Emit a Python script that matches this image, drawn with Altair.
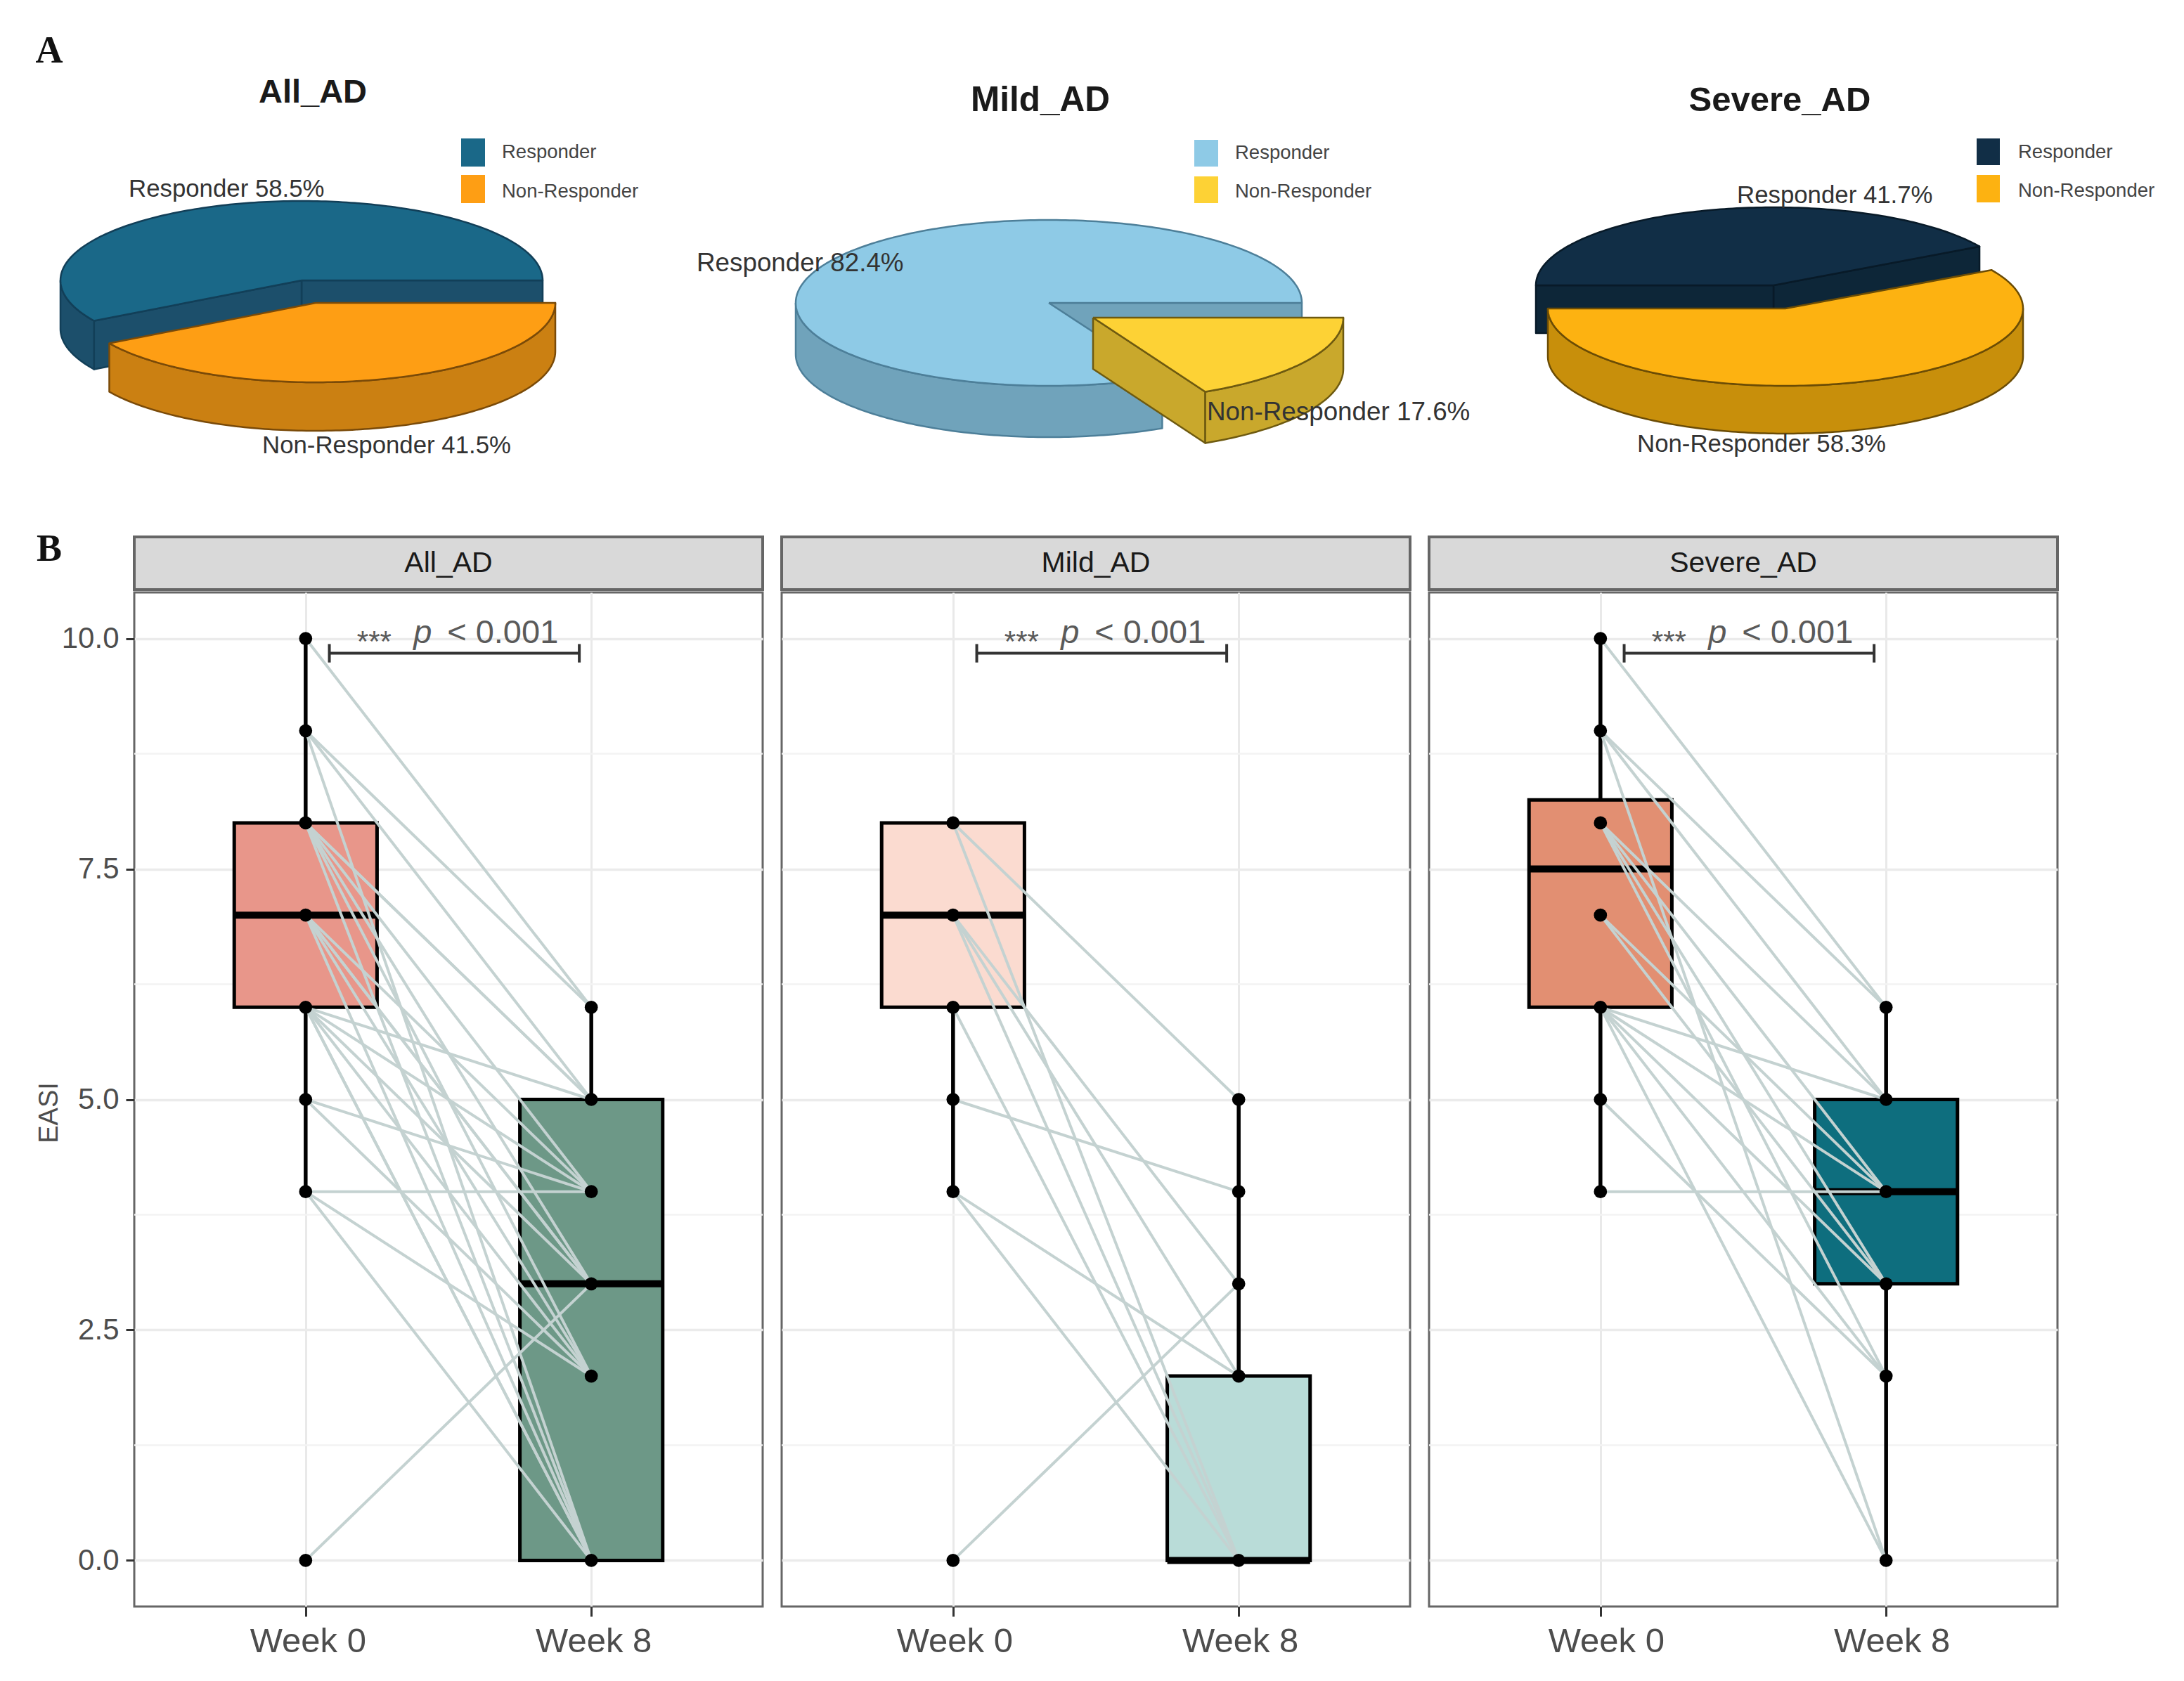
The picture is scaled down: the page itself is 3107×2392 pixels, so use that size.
import math
import altair as alt

# ---------- data ----------
GROUPS = ["All_AD", "Mild_AD", "Severe_AD"]
RESPONDER_PCT = [58.5, 82.4, 41.7]
NON_RESPONDER_PCT = [41.5, 17.6, 58.3]
WEEK_LABELS = ["Week 0", "Week 8"]
WEEK_POS = [1, 2]

ALL_W0 = [10, 9, 9, 9, 8, 8, 8, 8, 8, 8, 7, 7, 7, 7, 7, 6, 6, 6, 6, 6, 6, 5, 5, 4, 4, 4, 0]
ALL_W8 = [6, 6, 5, 0, 5, 5, 4, 3, 2, 0, 4, 3, 3, 2, 0, 5, 4, 3, 2, 0, 0, 4, 2, 4, 2, 0, 3]
MILD_W0 = [8, 8, 7, 7, 7, 6, 5, 4, 4, 0]
MILD_W8 = [5, 0, 3, 2, 0, 0, 4, 2, 0, 3]
SEVERE_W0 = [10, 9, 9, 9, 8, 8, 8, 8, 7, 7, 6, 6, 6, 6, 6, 5, 4]
SEVERE_W8 = [6, 6, 5, 0, 5, 4, 3, 2, 4, 3, 5, 4, 3, 2, 0, 2, 4]

# q1, median, q3, whisker low, whisker high for Week 0 / Week 8
BOX_W0 = [[6, 7, 8, 4, 10], [6, 7, 8, 4, 8], [6, 7.5, 8.25, 4, 10]]
BOX_W8 = [[0, 3, 5, 0, 6], [0, 0, 2, 0, 5], [3, 4, 5, 0, 6]]

# ---------- styles ----------
BOX_FILL = [["#e8968a", "#6d9887"], ["#fbdbd0", "#b9dcd8"], ["#e28f72", "#0e6e7e"]]
PIE_COL = [
    dict(r="#1a6888", rs="#1c4f6b", re="#123f58", n="#fe9e14", ns="#cb8012", ne="#7a4a08"),
    dict(r="#8ecae6", rs="#70a3bb", re="#4d7f99", n="#fdd235", ns="#c9a82c", ne="#6e5a10"),
    dict(r="#112e46", rs="#0d2638", re="#081a28", n="#fdb211", ns="#c88f0b", ne="#6b4c05"),
]
# centre x, centre y, a, b, depth, exploded centre x, centre y, a, b
PIE_GEOM = [
    (429, 398, 343, 113, 69, 449, 430, 341, 113),
    (1492, 430, 360, 118, 73, 1555, 451, 356, 118),
    (2523, 405, 338, 111, 68, 2540, 438, 338, 110),
]
FONT = "Liberation Sans"
OX, OY = 191, 8
TOP_W, TOP_H = 2900, 743
PANEL_W, PANEL_H, STRIP_H = 894, 1443, 75
PAD_LEFT = 41
PANEL_GAP = 21
LABEL_OFFSET = [3, 2, 8]

X = alt.X("x:Q", scale=alt.Scale(domain=[0, TOP_W], nice=False, zero=False), axis=None)
Y = alt.Y("y:Q", scale=alt.Scale(domain=[TOP_H, 0], nice=False, zero=False), axis=None)


def P(t, cx, cy, a, b):
    r = math.radians(t)
    return (cx + a * math.cos(r), cy - b * math.sin(r))


def arc(t0, t1, cx, cy, a, b):
    n = max(2, int(abs(t1 - t0)))
    return [P(t0 + (t1 - t0) * k / n, cx, cy, a, b) for k in range(n + 1)]


def polygon(pts, fill, stroke):
    pts = list(pts) + [pts[0]]
    vals = [dict(x=p[0] - OX, y=p[1] - OY, i=k) for k, p in enumerate(pts)]
    return alt.Chart(alt.Data(values=vals)).mark_line(
        fill=fill, stroke=stroke, strokeWidth=2.5, strokeJoin="round"
    ).encode(x=X, y=Y, order="i:Q")


def sector(t0, t1, cx, cy, a, b, fill, stroke):
    return polygon([(cx, cy)] + arc(t0, t1, cx, cy, a, b), fill, stroke)


def wall(t0, t1, cx, cy, a, b, d, fill, stroke):
    top = arc(t0, t1, cx, cy, a, b)
    return polygon(top + [(x, y + d) for x, y in reversed(top)], fill, stroke)


def radial(t, cx, cy, a, b, d, fill, stroke):
    x, y = P(t, cx, cy, a, b)
    return polygon([(cx, cy), (x, y), (x, y + d), (cx, cy + d)], fill, stroke)


def pie_layers(idx):
    c = PIE_COL[idx]
    cx, cy, a, b, d, ex, ey, ea, eb = PIE_GEOM[idx]
    resp = RESPONDER_PCT[idx] * 3.6
    non = NON_RESPONDER_PCT[idx] * 3.6
    if idx == 2:  # responder sits on the back left, ending at 180 degrees
        t0, t1 = 180 - resp, 180
        return [
            radial(t0, cx, cy, a, b, d, c["rs"], c["re"]),
            radial(t1, cx, cy, a, b, d, c["rs"], c["re"]),
            sector(t0, t1, cx, cy, a, b, c["r"], c["re"]),
            wall(180, 360, ex, ey, ea, eb, d, c["ns"], c["ne"]),
            sector(180, 180 + non, ex, ey, ea, eb, c["n"], c["ne"]),
        ]
    t1 = resp
    return [
        radial(0, cx, cy, a, b, d, c["rs"], c["re"]),
        radial(t1, cx, cy, a, b, d, c["rs"], c["re"]) if idx == 0 else None,
        wall(180, t1, cx, cy, a, b, d, c["rs"], c["re"]),
        sector(0, t1, cx, cy, a, b, c["r"], c["re"]),
        radial(-non, ex, ey, ea, eb, d, c["ns"], c["ne"]) if idx == 1 else None,
        wall(-non, 0, ex, ey, ea, eb, d, c["ns"], c["ne"]),
        sector(-non, 0, ex, ey, ea, eb, c["n"], c["ne"]),
    ]


def text_layer(rows, **mark):
    vals = [dict(x=r[0] - OX, y=r[1] - OY, t=r[2]) for r in rows]
    return alt.Chart(alt.Data(values=vals)).mark_text(baseline="middle", **mark).encode(
        x=X, y=Y, text="t:N"
    )


value_left = [
    (183, 269, f"Responder {RESPONDER_PCT[0]}%", 34.8),
    (373, 634, f"Non-Responder {NON_RESPONDER_PCT[0]}%", 34.8),
    (991, 374, f"Responder {RESPONDER_PCT[1]}%", 36.8),
    (1717, 586, f"Non-Responder {NON_RESPONDER_PCT[1]}%", 36.8),
    (2471, 278, f"Responder {RESPONDER_PCT[2]}%", 34.8),
    (2329, 632, f"Non-Responder {NON_RESPONDER_PCT[2]}%", 34.8),
]
legend_labels = [
    (714, 216, "Responder"), (714, 272, "Non-Responder"),
    (1757, 217, "Responder"), (1757, 272, "Non-Responder"),
    (2871, 216, "Responder"), (2871, 271, "Non-Responder"),
]
legend_boxes = [
    (656, 690, 196, 236, PIE_COL[0]["r"]), (656, 690, 248, 288, PIE_COL[0]["n"]),
    (1699, 1733, 198, 236, PIE_COL[1]["r"]), (1699, 1733, 250, 288, PIE_COL[1]["n"]),
    (2812, 2845, 196, 234, PIE_COL[2]["r"]), (2812, 2845, 248, 287, PIE_COL[2]["n"]),
]

top_layers = []
for i in range(3):
    top_layers += [l for l in pie_layers(i) if l is not None]
box_vals = [dict(x=b[0] - OX, x2=b[1] - OX, y=b[2] - OY, y2=b[3] - OY, c=b[4]) for b in legend_boxes]
top_layers.append(
    alt.Chart(alt.Data(values=box_vals)).mark_rect().encode(
        x=X, x2="x2:Q", y=Y, y2="y2:Q", fill=alt.Fill("c:N", scale=None)
    )
)
for xy, name, fs in [((445, 131), GROUPS[0], 47), ((1480, 142), GROUPS[1], 49.5), ((2532, 142), GROUPS[2], 49)]:
    top_layers.append(text_layer([(xy[0], xy[1], name)], font=FONT, fontSize=fs, fontWeight="bold",
                                 color="#1a1a1a", align="center"))
for r in value_left:
    top_layers.append(text_layer([r[:3]], font=FONT, fontSize=r[3], color="#333333", align="left"))
top_layers.append(text_layer(legend_labels, font=FONT, fontSize=27.5, color="#444444", align="left"))
top_layers.append(text_layer([(70, 72, "A")], font="Liberation Serif", fontSize=54,
                             fontWeight="bold", color="#111111", align="center"))
top = alt.layer(*top_layers).properties(
    width=TOP_W, height=TOP_H, view=alt.ViewBackground(stroke="transparent")
)

# ---------- panel B ----------
XS = alt.Scale(domain=[0.4, 2.6], nice=False, zero=False)
YS = alt.Scale(domain=[-0.5, 10.5], nice=False, zero=False)
label_expr = f"datum.value == {WEEK_POS[0]} ? '{WEEK_LABELS[0]}' : '{WEEK_LABELS[1]}'"
YTICKS = [0, 2.5, 5, 7.5, 10]
YMINOR = [1.25, 3.75, 6.25, 8.75]


def panel(idx, w0, w8):
    show = idx == 0
    x_axis = alt.Axis(
        values=WEEK_POS, labelExpr=label_expr, title=None, grid=True, gridColor="#e9e9e9", gridWidth=3,
        domain=False, tickColor="#333333", tickWidth=3, tickSize=14, labelFontSize=49, labelColor="#4d4d4d",
        labelFont=FONT, labelPadding=11, labelAngle=0, labelOffset=LABEL_OFFSET[idx],
    )
    if show:
        y_axis = alt.Axis(
            values=YTICKS, format=".1f", title="EASI", titleFont=FONT, titleFontSize=38, titleFontWeight="normal",
            titleColor="#4d4d4d", titleX=-121, titleY=740, titleBaseline="middle", grid=True, gridColor="#ebebeb",
            gridWidth=3.5, domain=False, tickColor="#333333", tickWidth=3, tickSize=12, labelFontSize=42,
            labelColor="#4d4d4d", labelFont=FONT, labelPadding=10,
        )
    else:
        y_axis = alt.Axis(
            values=YTICKS, title=None, grid=True, gridColor="#ebebeb", gridWidth=3.5, domain=False,
            ticks=False, labels=False, minExtent=0,
        )

    def qx(f):
        return alt.X(f + ":Q", scale=XS, axis=x_axis)

    def qy(f):
        return alt.Y(f + ":Q", scale=YS, axis=y_axis)

    xa, ya = qx("x"), qy("y")

    minor = alt.Chart(alt.Data(values=[dict(y=v) for v in YMINOR])).mark_rule(
        color="#f3f3f3", strokeWidth=2.5
    ).encode(y=ya)

    stats = [BOX_W0[idx], BOX_W8[idx]]
    fills = BOX_FILL[idx]
    bv = [
        dict(x=WEEK_POS[k], x1=WEEK_POS[k] - 0.25, x2=WEEK_POS[k] + 0.25, q1=s[0], med=s[1], q3=s[2],
             lo=s[3], hi=s[4], c=fills[k])
        for k, s in enumerate(stats)
    ]
    bd = alt.Data(values=bv)
    whisk = alt.Chart(bd).mark_rule(color="black", strokeWidth=5.5).encode(x=xa, y=qy("lo"), y2="hi:Q")
    box = alt.Chart(bd).mark_rect(stroke="black", strokeWidth=5).encode(
        x=qx("x1"), x2="x2:Q", y=qy("q1"), y2="q3:Q", fill=alt.Fill("c:N", scale=None),
    )
    med = alt.Chart(bd).mark_rule(color="black", strokeWidth=10).encode(x=qx("x1"), x2="x2:Q", y=qy("med"))
    line_vals = []
    point_vals = set()
    for j, (a, b) in enumerate(zip(w0, w8)):
        line_vals.append(dict(id=j, x=WEEK_POS[0], y=a))
        line_vals.append(dict(id=j, x=WEEK_POS[1], y=b))
        point_vals.add((WEEK_POS[0], a))
        point_vals.add((WEEK_POS[1], b))
    lines = alt.Chart(alt.Data(values=line_vals)).mark_line(color="#c4d2d1", strokeWidth=4).encode(
        x=xa, y=ya, detail="id:N", order="x:Q"
    )
    pts = alt.Chart(alt.Data(values=[dict(x=p[0], y=p[1]) for p in sorted(point_vals)])).mark_circle(
        color="black", size=350, opacity=1
    ).encode(x=xa, y=ya)

    b0, b1, by, cap = 1.083, 1.958, 9.84, 0.1
    bracket = alt.Chart(alt.Data(values=[dict(x=b0, x2=b1, y=by)])).mark_rule(color="#333333", strokeWidth=4).encode(
        x=xa, x2="x2:Q", y=ya
    )
    caps = alt.Chart(alt.Data(values=[dict(x=b0, y=by - cap, y2=by + cap), dict(x=b1, y=by - cap, y2=by + cap)])).mark_rule(
        color="#333333", strokeWidth=4
    ).encode(x=xa, y=ya, y2="y2:Q")

    def t(x, y, s, **kw):
        return alt.Chart(alt.Data(values=[dict(x=x, y=y, t=s)])).mark_text(
            font=FONT, color="#5a5a5a", baseline="alphabetic", **kw
        ).encode(x=xa, y=ya, text="t:N")

    stars = t(1.24, 9.86, "***", fontSize=42, align="center")
    pp = t(1.41, 9.95, "p", fontSize=47, fontStyle="italic", align="center")
    rest = t(1.69, 9.95, "< 0.001", fontSize=47, align="center")

    plot = alt.layer(minor, whisk, box, med, lines, pts, bracket, caps, stars, pp, rest).properties(
        width=PANEL_W, height=PANEL_H, view=alt.ViewBackground(stroke="#666666", strokeWidth=3)
    )
    strip_layers = [
        alt.Chart(alt.Data(values=[dict(t=GROUPS[idx])])).mark_text(
            font=FONT, fontSize=41, color="#1a1a1a", baseline="middle", align="center"
        ).encode(x=alt.value(PANEL_W / 2), y=alt.value(STRIP_H / 2), text="t:N")
    ]
    if idx == 0:
        strip_layers.append(
            alt.Chart(alt.Data(values=[dict(t="B")])).mark_text(
                font="Liberation Serif", fontSize=54, fontWeight="bold", color="#111111",
                baseline="middle", align="center"
            ).encode(x=alt.value(-121), y=alt.value(18), text="t:N")
        )
    strip = alt.layer(*strip_layers).properties(
        width=PANEL_W, height=STRIP_H, view=alt.ViewBackground(fill="#d9d9d9", stroke="#666666", strokeWidth=4)
    )
    return alt.vconcat(strip, plot, spacing=0)


bottom = alt.hconcat(
    panel(0, ALL_W0, ALL_W8), panel(1, MILD_W0, MILD_W8), panel(2, SEVERE_W0, SEVERE_W8), spacing=PANEL_GAP
)
chart = alt.vconcat(top, bottom, spacing=0).properties(
    padding=dict(left=PAD_LEFT, top=0, right=0, bottom=0), background="white"
).configure_view(stroke="#666666")
chart.save("out.html", embed_options={"renderer": "svg", "actions": False})
